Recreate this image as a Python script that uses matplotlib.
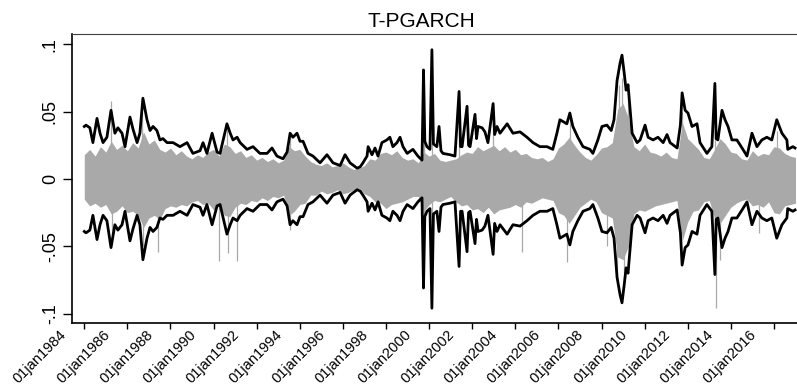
import numpy as np
import matplotlib.pyplot as plt
from matplotlib.transforms import ScaledTranslation

plt.rcParams['font.family'] = ['Liberation Sans', 'DejaVu Sans']

# conditional volatility band (upper side, lower side is the mirror)
band_t = [1984.00, 1984.08, 1984.26, 1984.40, 1984.59, 1984.73, 1984.87, 1985.05, 1985.24, 1985.42,
          1985.56, 1985.75, 1985.89, 1986.12, 1986.26, 1986.45, 1986.58, 1986.72, 1986.91, 1987.05,
          1987.19, 1987.37, 1987.51, 1987.65, 1987.84, 1988.12, 1988.44, 1988.77, 1989.04, 1989.37,
          1989.51, 1989.69, 1989.93, 1990.16, 1990.30, 1990.62, 1990.77, 1990.90, 1991.09, 1991.23,
          1991.55, 1991.83, 1992.15, 1992.48, 1992.71, 1992.94, 1993.22, 1993.41, 1993.55, 1993.68,
          1993.87, 1994.01, 1994.15, 1994.38, 1994.61, 1994.94, 1995.26, 1995.54, 1995.87, 1996.10,
          1996.33, 1996.66, 1996.80, 1996.93, 1997.12, 1997.17, 1997.35, 1997.49, 1997.63, 1997.81,
          1998.04, 1998.18, 1998.32, 1998.51, 1998.65, 1998.79, 1998.98, 1999.25, 1999.48, 1999.67,
          1999.74, 1999.80, 1999.90, 2000.04, 2000.13, 2000.20, 2000.36, 2000.46, 2000.55, 2000.64,
          2000.97, 2001.20, 2001.39, 2001.46, 2001.53, 2001.76, 2001.83, 2001.90, 2002.13, 2002.20,
          2002.27, 2002.46, 2002.59, 2002.73, 2002.97, 2003.04, 2003.15, 2003.29, 2003.62, 2003.89,
          2004.22, 2004.54, 2004.82, 2005.14, 2005.47, 2005.74, 2005.93, 2006.07, 2006.39, 2006.53,
          2006.67, 2006.90, 2007.14, 2007.46, 2007.60, 2007.83, 2008.02, 2008.25, 2008.45, 2008.58,
          2008.72, 2008.86, 2008.95, 2009.05, 2009.14, 2009.23, 2009.33, 2009.42, 2009.65, 2009.79,
          2010.02, 2010.16, 2010.39, 2010.62, 2010.86, 2011.04, 2011.18, 2011.51, 2011.66, 2011.74,
          2011.88, 2012.01, 2012.20, 2012.43, 2012.57, 2012.89, 2013.12, 2013.26, 2013.32, 2013.40,
          2013.59, 2013.73, 2013.87, 2014.05, 2014.28, 2014.56, 2014.75, 2014.98, 2015.21, 2015.44,
          2015.67, 2015.90, 2016.13, 2016.37, 2016.60, 2016.64, 2016.88, 2016.98]
band_v = [0.039, 0.040, 0.038, 0.027, 0.045, 0.034, 0.027, 0.031, 0.051, 0.034,
          0.038, 0.034, 0.024, 0.046, 0.037, 0.027, 0.034, 0.060, 0.044, 0.036,
          0.039, 0.036, 0.029, 0.030, 0.027, 0.027, 0.024, 0.027, 0.019, 0.021,
          0.027, 0.019, 0.034, 0.020, 0.019, 0.041, 0.034, 0.029, 0.031, 0.027,
          0.022, 0.024, 0.019, 0.019, 0.023, 0.017, 0.015, 0.020, 0.034, 0.031,
          0.034, 0.028, 0.028, 0.019, 0.017, 0.012, 0.018, 0.012, 0.010, 0.018,
          0.012, 0.008, 0.009, 0.012, 0.017, 0.024, 0.018, 0.023, 0.017, 0.027,
          0.029, 0.031, 0.024, 0.027, 0.031, 0.024, 0.019, 0.022, 0.017, 0.014,
          0.081, 0.028, 0.024, 0.022, 0.096, 0.026, 0.024, 0.039, 0.021, 0.019,
          0.018, 0.017, 0.065, 0.024, 0.024, 0.054, 0.025, 0.024, 0.048, 0.030,
          0.039, 0.038, 0.035, 0.027, 0.056, 0.033, 0.039, 0.034, 0.041, 0.034,
          0.035, 0.031, 0.027, 0.024, 0.024, 0.022, 0.034, 0.044, 0.041, 0.049,
          0.039, 0.031, 0.024, 0.022, 0.019, 0.029, 0.039, 0.040, 0.036, 0.044,
          0.073, 0.086, 0.092, 0.079, 0.066, 0.070, 0.051, 0.034, 0.027, 0.029,
          0.040, 0.031, 0.029, 0.031, 0.027, 0.033, 0.027, 0.023, 0.040, 0.064,
          0.051, 0.049, 0.039, 0.041, 0.027, 0.019, 0.024, 0.071, 0.030, 0.029,
          0.051, 0.044, 0.039, 0.029, 0.029, 0.022, 0.017, 0.034, 0.024, 0.029,
          0.031, 0.029, 0.044, 0.034, 0.029, 0.022, 0.024, 0.023]

# dense body of the daily returns, quarterly upper / lower reach
ret_start, ret_step = 1984.0, 0.25
ret_hi = [0.018, 0.022, 0.017, 0.024, 0.020, 0.028, 0.022, 0.025, 0.021, 0.027, 0.023, 0.035,
          0.026, 0.029, 0.022, 0.020, 0.023, 0.018, 0.021, 0.017, 0.015, 0.018, 0.016, 0.020,
          0.022, 0.017, 0.026, 0.024, 0.019, 0.021, 0.016, 0.018, 0.014, 0.016, 0.013, 0.015,
          0.012, 0.014, 0.024, 0.021, 0.022, 0.017, 0.013, 0.011, 0.010, 0.012, 0.009, 0.010,
          0.012, 0.009, 0.007, 0.008, 0.010, 0.015, 0.014, 0.019, 0.020, 0.018, 0.021, 0.016,
          0.014, 0.015, 0.012, 0.020, 0.017, 0.019, 0.014, 0.013, 0.014, 0.015, 0.018, 0.020,
          0.019, 0.024, 0.021, 0.023, 0.025, 0.021, 0.024, 0.020, 0.022, 0.018, 0.019, 0.016,
          0.015, 0.016, 0.013, 0.015, 0.023, 0.026, 0.031, 0.025, 0.020, 0.016, 0.014, 0.018,
          0.023, 0.024, 0.027, 0.052, 0.056, 0.045, 0.024, 0.021, 0.026, 0.020, 0.019, 0.017,
          0.020, 0.016, 0.015, 0.042, 0.030, 0.026, 0.022, 0.016, 0.015, 0.022, 0.030, 0.026,
          0.020, 0.019, 0.015, 0.014, 0.021, 0.017, 0.019, 0.018, 0.024, 0.023, 0.019, 0.017,
          0.016]
ret_lo = [-0.015, -0.020, -0.018, -0.021, -0.019, -0.026, -0.024, -0.020, -0.025, -0.024, -0.027, -0.036,
          -0.029, -0.027, -0.030, -0.022, -0.020, -0.021, -0.019, -0.020, -0.017, -0.016, -0.019, -0.018,
          -0.023, -0.020, -0.027, -0.028, -0.021, -0.018, -0.019, -0.016, -0.017, -0.014, -0.016, -0.013,
          -0.014, -0.012, -0.027, -0.024, -0.019, -0.018, -0.012, -0.012, -0.009, -0.011, -0.010, -0.008,
          -0.011, -0.010, -0.008, -0.007, -0.011, -0.013, -0.017, -0.018, -0.022, -0.019, -0.018, -0.017,
          -0.015, -0.013, -0.013, -0.024, -0.019, -0.016, -0.017, -0.015, -0.013, -0.017, -0.020, -0.019,
          -0.023, -0.022, -0.025, -0.021, -0.026, -0.023, -0.022, -0.021, -0.019, -0.021, -0.017, -0.018,
          -0.016, -0.014, -0.015, -0.016, -0.025, -0.027, -0.033, -0.027, -0.021, -0.018, -0.015, -0.017,
          -0.025, -0.027, -0.029, -0.058, -0.060, -0.050, -0.026, -0.023, -0.024, -0.022, -0.020, -0.019,
          -0.018, -0.017, -0.016, -0.046, -0.032, -0.024, -0.023, -0.017, -0.016, -0.030, -0.033, -0.027,
          -0.021, -0.018, -0.016, -0.015, -0.020, -0.019, -0.021, -0.017, -0.025, -0.026, -0.020, -0.019,
          -0.018]

# isolated large daily returns
spike_t = [1985.24, 1986.70, 1990.62, 1993.55, 1999.74, 2000.13, 2001.39, 2002.97, 2006.53, 2008.80,
           2008.95, 2009.23, 2011.72, 2013.26, 2016.13,
           1985.28, 1986.72, 1987.42, 1990.26, 1990.67, 1991.08, 1993.54, 1999.76, 2000.15, 2004.30,
           2006.42, 2008.25, 2008.72, 2009.05, 2011.70, 2013.30, 2013.50, 2015.30]
spike_v = [0.058, 0.050, 0.040, 0.034, 0.070, 0.095, 0.050, 0.045, 0.045, 0.070,
           0.075, 0.060, 0.050, 0.040, 0.036,
           -0.049, -0.050, -0.054, -0.061, -0.055, -0.061, -0.038, -0.050, -0.060, -0.054,
           -0.062, -0.050, -0.075, -0.070, -0.057, -0.096, -0.060, -0.040]

tick_years = list(range(1984, 2017, 2))
tick_labels = ['01jan%d' % y for y in tick_years]
ytick_vals = [-0.1, -0.05, 0, 0.05, 0.1]
ytick_labels = ['-.1', '-.05', '0', '.05', '.1']

GRAY = '#a9a9a9'

fig = plt.figure(figsize=(7.97, 3.86), dpi=100)
ax = fig.add_axes([72 / 797, 1 - 323 / 386, 1 - 72 / 797, (323 - 34) / 386])

ret_t = ret_start + ret_step * np.arange(len(ret_hi))
ax.fill_between(ret_t, ret_lo, ret_hi, color=GRAY, lw=0)
ax.vlines(spike_t, 0, spike_v, color=GRAY, lw=0.9)
band = np.array(band_v)
ax.plot(band_t, band, color='black', lw=2.0)
ax.plot(band_t, -band, color='black', lw=2.0)

ax.set_xlim(1983.43, 2017.07)
ax.set_ylim(-0.107, 0.1077)

ax.set_xticks(tick_years)
ax.set_xticklabels(tick_labels, rotation=45, ha='right', va='center', rotation_mode='anchor', fontsize=10.5)
ax.set_yticks(ytick_vals)
ax.set_yticklabels(ytick_labels, rotation=90, va='center', fontsize=13)
ax.tick_params(axis='x', length=4, width=1, pad=3)
ax.tick_params(axis='y', length=6.5, width=1, pad=3)
off = ScaledTranslation(-0.2, 0.0, fig.dpi_scale_trans)
for lab in ax.get_xticklabels():
    lab.set_transform(lab.get_transform() + off)

ax.spines['right'].set_visible(False)
ax.spines['top'].set_color('#404040')
ax.spines['top'].set_linewidth(0.8)
ax.spines['left'].set_linewidth(1.2)
ax.spines['bottom'].set_linewidth(1.2)

fig.text(421 / 797, 1 - 27 / 386, 'T-PGARCH', ha='center', va='baseline', fontsize=15)

fig.savefig('out.png', dpi=100)
